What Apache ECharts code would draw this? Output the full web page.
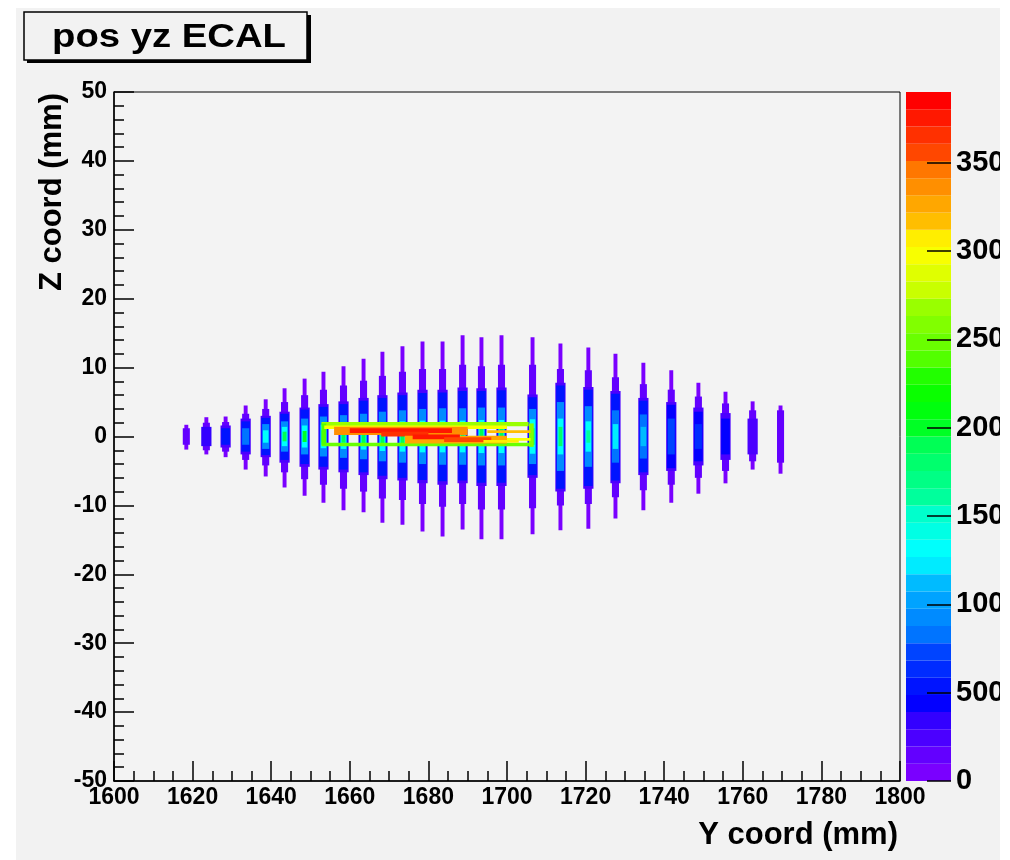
<!DOCTYPE html>
<html>
<head>
<meta charset="utf-8">
<script src="https://cdn.jsdelivr.net/npm/echarts@6/dist/echarts.min.js"></script>
<style>
  html, body { margin: 0; padding: 0; background: #ffffff; }
  #chart { width: 1010px; height: 860px; }
</style>
</head>
<body>
<div id="chart"></div>
<script>
// ECAL hit positions in the Y-Z plane, drawn as a contour-style 2D histogram.

// Axis ranges and tick steps
const yRange = [1600, 1800];
const zRange = [-50, 50];
const yTickStep = 20;
const zTickStep = 10;

// Colour scale: counts per bin, split into equal contour levels
const zMax = 3900;
const nLevels = 40;
const colorBarTicks = [0, 500, 1000, 1500, 2000, 2500, 3000, 3500];

// Centre of each crystal column along Y (mm)
const colY = [
  1618.4, 1623.5, 1628.4, 1633.5, 1638.6, 1643.4, 1648.5, 1653.3, 1658.4,
  1663.5, 1668.3, 1673.4, 1678.5, 1683.6, 1688.7, 1693.5, 1698.6, 1706.5,
  1713.6, 1720.7, 1727.6, 1734.7, 1741.8, 1748.7, 1755.6, 1762.5, 1769.6
];

// Nested contour bands of each column, outermost first: [zLow, zHigh, counts]
const colLayers = [
  [[-1.9, 1.7, 80], [-1.2, 1.2, 120]],
  [[-2.6, 2.8, 80], [-2.0, 2.0, 150], [-1.4, 1.4, 300]],
  [[-3.0, 2.9, 80], [-2.2, 2.1, 150], [-1.6, 1.6, 250], [-1.2, 1.2, 500]],
  [[-4.8, 4.5, 80], [-3.4, 3.3, 150], [-2.6, 2.6, 250], [-2.2, 2.2, 500], [-1.2, 1.2, 850]],
  [[-5.8, 5.4, 80], [-4.2, 4.0, 150], [-3.0, 3.0, 250], [-2.7, 2.7, 500], [-1.8, 1.8, 900], [-0.9, 0.9, 1300]],
  [[-7.4, 7.0, 80], [-5.2, 5.0, 150], [-3.8, 3.6, 250], [-3.4, 3.3, 500], [-2.2, 2.2, 900], [-1.4, 1.4, 1350], [-0.7, 0.7, 1900]],
  [[-8.6, 8.4, 80], [-6.2, 6.0, 150], [-4.4, 4.2, 250], [-4.0, 3.9, 500], [-2.6, 2.6, 900], [-1.6, 1.6, 1350], [-0.8, 0.8, 2000]],
  [[-9.6, 9.4, 80], [-7.0, 6.8, 150], [-4.8, 4.7, 250], [-4.4, 4.3, 500], [-2.9, 2.9, 900], [-1.7, 1.7, 1350], [-0.9, 0.9, 2000]],
  [[-10.7, 10.2, 80], [-7.6, 7.4, 150], [-5.2, 5.1, 250], [-4.8, 4.7, 500], [-3.1, 3.1, 900], [-1.8, 1.8, 1350], [-0.9, 0.9, 1900]],
  [[-11.0, 11.3, 80], [-8.0, 8.1, 150], [-5.6, 5.6, 250], [-5.2, 5.2, 500], [-3.3, 3.3, 900], [-1.9, 1.9, 1350], [-1.0, 1.0, 1900]],
  [[-12.5, 12.3, 80], [-9.0, 8.8, 150], [-6.2, 6.0, 250], [-5.7, 5.6, 500], [-3.6, 3.6, 900], [-2.1, 2.1, 1350], [-1.0, 1.0, 1900]],
  [[-12.8, 13.1, 80], [-9.2, 9.4, 150], [-6.4, 6.4, 250], [-6.0, 6.0, 500], [-3.8, 3.8, 900], [-2.2, 2.2, 1350], [-1.1, 1.1, 1900]],
  [[-13.8, 13.8, 80], [-9.8, 9.8, 150], [-6.8, 6.8, 250], [-6.3, 6.3, 500], [-4.0, 4.0, 900], [-2.3, 2.3, 1350], [-1.1, 1.1, 1900]],
  [[-14.5, 13.8, 80], [-10.2, 9.8, 150], [-7.0, 6.8, 250], [-6.5, 6.4, 500], [-4.1, 4.1, 900], [-2.3, 2.3, 1350], [-1.1, 1.1, 1900]],
  [[-13.5, 14.7, 80], [-9.8, 10.4, 150], [-6.8, 7.1, 250], [-6.4, 6.6, 500], [-4.1, 4.1, 900], [-2.3, 2.3, 1350], [-1.1, 1.1, 1900]],
  [[-14.9, 14.4, 80], [-10.6, 10.2, 150], [-7.2, 7.0, 250], [-6.7, 6.6, 500], [-4.2, 4.2, 900], [-2.4, 2.4, 1350], [-1.2, 1.2, 1900]],
  [[-14.9, 14.7, 80], [-10.6, 10.4, 150], [-7.2, 7.1, 250], [-6.7, 6.7, 500], [-4.2, 4.2, 900], [-2.4, 2.4, 1350], [-1.2, 1.2, 1900]],
  [[-14.2, 14.4, 80], [-10.4, 10.4, 150], [-6.0, 6.1, 250], [-5.6, 5.7, 500], [-4.0, 4.0, 900], [-2.5, 2.5, 1350], [-1.2, 1.2, 1900]],
  [[-13.6, 13.5, 80], [-10.0, 9.8, 150], [-8.0, 7.8, 250], [-7.6, 7.4, 500], [-5.0, 5.0, 900], [-2.6, 2.6, 1350], [-1.4, 1.4, 1800]],
  [[-13.4, 12.9, 80], [-9.8, 9.6, 150], [-7.6, 7.2, 250], [-7.2, 6.8, 500], [-4.4, 4.4, 900], [-2.2, 2.2, 1300], [-0.9, 0.9, 1600]],
  [[-11.9, 12.0, 80], [-8.8, 8.6, 150], [-6.8, 6.6, 250], [-6.4, 6.2, 500], [-3.8, 3.8, 850], [-1.8, 1.8, 1250]],
  [[-10.7, 10.7, 80], [-7.8, 7.6, 150], [-5.6, 5.6, 250], [-5.2, 5.2, 500], [-3.2, 3.2, 850], [-1.4, 1.4, 1100]],
  [[-9.6, 9.6, 80], [-7.0, 6.8, 150], [-5.0, 5.0, 250], [-4.6, 4.6, 450], [-2.6, 2.6, 750]],
  [[-8.3, 7.8, 80], [-6.0, 5.8, 150], [-4.2, 4.2, 250], [-3.6, 3.6, 450], [-1.8, 1.8, 650]],
  [[-6.8, 6.5, 80], [-5.0, 4.8, 150], [-3.4, 3.4, 250], [-2.6, 2.6, 400]],
  [[-4.8, 5.1, 80], [-3.6, 3.8, 150], [-2.6, 2.6, 230]],
  [[-5.4, 4.5, 80], [-3.8, 3.8, 120]]
];

// Shower core deposits crossing the columns: [yStart, yEnd, zLow, zHigh, counts]
const tracks = [
  [1652.8, 1705.5, 1.5, 2.1, 2700],
  [1652.8, 1706.5, -1.4, -0.9, 2450],
  [1652.8, 1654.0, -1.2, 1.9, 2400],
  [1705.6, 1706.8, -1.5, 1.9, 2550],
  [1653.5, 1700.0, 1.1, 1.6, 3000],
  [1690.0, 1706.0, -0.6, -0.2, 2950],
  [1695.0, 1706.0, 0.5, 0.9, 3200],
  [1656.0, 1690.0, 0.2, 1.4, 3350],
  [1660.0, 1686.0, 0.5, 1.2, 3800],
  [1668.0, 1680.0, 0.0, 0.7, 3650],
  [1674.0, 1700.0, -1.0, 0.1, 3250],
  [1676.0, 1688.0, -0.4, 0.3, 3750],
  [1684.0, 1696.0, -0.8, -0.1, 3550],
  [1694.0, 1703.0, -0.9, -0.5, 3100]
];

// Drawing widths (mm along Y) of successive contour bands in a column
const layerWidth = [1.0, 1.8, 2.6, 2.2, 1.8, 1.4, 1.0];

// ---- colour palette: violet -> blue -> cyan -> green -> yellow -> red ----
function hueToRgb(h) {
  const c = 255;
  const hp = h / 60;
  const x = Math.round(c * (1 - Math.abs((hp % 2) - 1)));
  let r = 0, g = 0, b = 0;
  if (hp < 1) { r = c; g = x; }
  else if (hp < 2) { r = x; g = c; }
  else if (hp < 3) { g = c; b = x; }
  else if (hp < 4) { g = x; b = c; }
  else if (hp < 5) { r = x; b = c; }
  else { r = c; b = x; }
  return 'rgb(' + r + ',' + g + ',' + b + ')';
}
function levelColor(level) {
  const nCol = 50;
  const idx = Math.floor((level + 0.99) * nCol / nLevels);
  const hue = Math.max(0, 280 - (idx + 1) * (280 / nCol));
  return hueToRgb(hue);
}
const levelStep = zMax / nLevels;
function valueColor(v) {
  const k = Math.min(nLevels - 1, Math.max(0, Math.floor(v / levelStep)));
  return levelColor(k);
}

// ---- build rectangles for the custom series ----
const cells = [];
colY.forEach(function (y, i) {
  colLayers[i].forEach(function (L, j) {
    const w = layerWidth[j];
    cells.push([y - w / 2, y + w / 2, L[0], L[1], L[2]]);
  });
});
tracks.forEach(function (t) { cells.push(t.slice()); });

const bands = [];
for (let k = 0; k < nLevels; k++) {
  bands.push([0, 1, k * levelStep, (k + 1) * levelStep, k]);
}

const FONT = 'Liberation Sans';
const plainNumber = function (v) { return String(v); };
const tickLabel = { fontFamily: FONT, fontWeight: 'bold', fontSize: 23, color: '#000', formatter: plainNumber };
const barLabel = { fontFamily: FONT, fontWeight: 'bold', fontSize: 29, color: '#000', formatter: plainNumber };

function rectItem(api, fill) {
  const p0 = api.coord([api.value(0), api.value(3)]);
  const p1 = api.coord([api.value(1), api.value(2)]);
  return {
    type: 'rect',
    shape: { x: p0[0], y: p0[1], width: p1[0] - p0[0], height: p1[1] - p0[1] },
    style: { fill: fill }
  };
}

const chart = echarts.init(document.getElementById('chart'), null, { renderer: 'canvas' });
chart.setOption({
  animation: false,
  backgroundColor: '#f2f2f2',
  grid: [
    { left: 114, top: 92, width: 786, height: 689, show: true, outerBoundsMode: 'none',
      borderColor: '#000', borderWidth: 1, backgroundColor: '#f3f3f3', containLabel: false },
    { left: 906, top: 92, width: 45, height: 689, show: false, outerBoundsMode: 'none', containLabel: false }
  ],
  xAxis: [
    {
      gridIndex: 0, type: 'value', min: yRange[0], max: yRange[1], interval: yTickStep, z: 10,
      axisLine: { show: true, onZero: false, lineStyle: { color: '#000', width: 1.5 } },
      axisTick: { show: true, inside: true, length: 20, lineStyle: { color: '#000', width: 1.5 } },
      minorTick: { show: true, splitNumber: 4, length: 10, lineStyle: { color: '#000', width: 1.5 } },
      axisLabel: Object.assign({ margin: 5 }, tickLabel),
      splitLine: { show: false }
    },
    { gridIndex: 1, type: 'value', min: 0, max: 1, show: false }
  ],
  yAxis: [
    {
      gridIndex: 0, type: 'value', min: zRange[0], max: zRange[1], interval: zTickStep, z: 10,
      axisLine: { show: true, onZero: false, lineStyle: { color: '#000', width: 1.5 } },
      axisTick: { show: true, inside: true, length: 20, lineStyle: { color: '#000', width: 1.5 } },
      minorTick: { show: true, splitNumber: 5, length: 10, lineStyle: { color: '#000', width: 1.5 } },
      axisLabel: Object.assign({ margin: 7 }, tickLabel),
      splitLine: { show: false }
    },
    {
      gridIndex: 1, type: 'value', position: 'right', min: 0, max: zMax, z: 10,
      axisLine: { show: false, onZero: false },
      axisTick: { show: true, inside: true, length: 24, customValues: colorBarTicks,
        lineStyle: { color: '#000', width: 1.5 } },
      axisLabel: Object.assign({ margin: 5, customValues: colorBarTicks }, barLabel),
      splitLine: { show: false }
    }
  ],
  series: [
    {
      type: 'custom', xAxisIndex: 0, yAxisIndex: 0, clip: true,
      encode: { x: [0, 1], y: [2, 3] },
      data: cells,
      renderItem: function (params, api) { return rectItem(api, valueColor(api.value(4))); },
      z: 2
    },
    {
      type: 'custom', xAxisIndex: 1, yAxisIndex: 1,
      encode: { x: [0, 1], y: [2, 3] },
      data: bands,
      renderItem: function (params, api) { return rectItem(api, levelColor(api.value(4))); },
      z: 1
    }
  ],
  graphic: [
    // title box with drop shadow
    { type: 'rect', z: 50, shape: { x: 27, y: 15, width: 284, height: 48 }, style: { fill: '#000' } },
    { type: 'rect', z: 51, shape: { x: 24, y: 12, width: 283, height: 48 },
      style: { fill: '#f2f2f2', stroke: '#000', lineWidth: 1.5 } },
    { type: 'text', z: 52, x: 169, y: 38, scaleX: 1.16,
      style: { text: 'pos yz ECAL', fontFamily: FONT, fontWeight: 'bold', fontSize: 33,
        fill: '#000', textAlign: 'center', textVerticalAlign: 'middle' } },
    // axis titles
    { type: 'text', z: 52, x: 898, y: 835,
      style: { text: 'Y coord (mm)', fontFamily: FONT, fontWeight: 'bold', fontSize: 31,
        fill: '#000', textAlign: 'right', textVerticalAlign: 'middle' } },
    { type: 'text', z: 52, x: 52, y: 93, rotation: Math.PI / 2,
      style: { text: 'Z coord (mm)', fontFamily: FONT, fontWeight: 'bold', fontSize: 31,
        fill: '#000', textAlign: 'right', textVerticalAlign: 'middle' } },
    // page margins
    { type: 'rect', z: 100, shape: { x: 1000, y: 0, width: 10, height: 860 }, style: { fill: '#fff' } },
    { type: 'rect', z: 100, shape: { x: 0, y: 0, width: 16, height: 860 }, style: { fill: '#fff' } },
    { type: 'rect', z: 100, shape: { x: 0, y: 0, width: 1010, height: 8 }, style: { fill: '#fff' } }
  ]
});
</script>
</body>
</html>
